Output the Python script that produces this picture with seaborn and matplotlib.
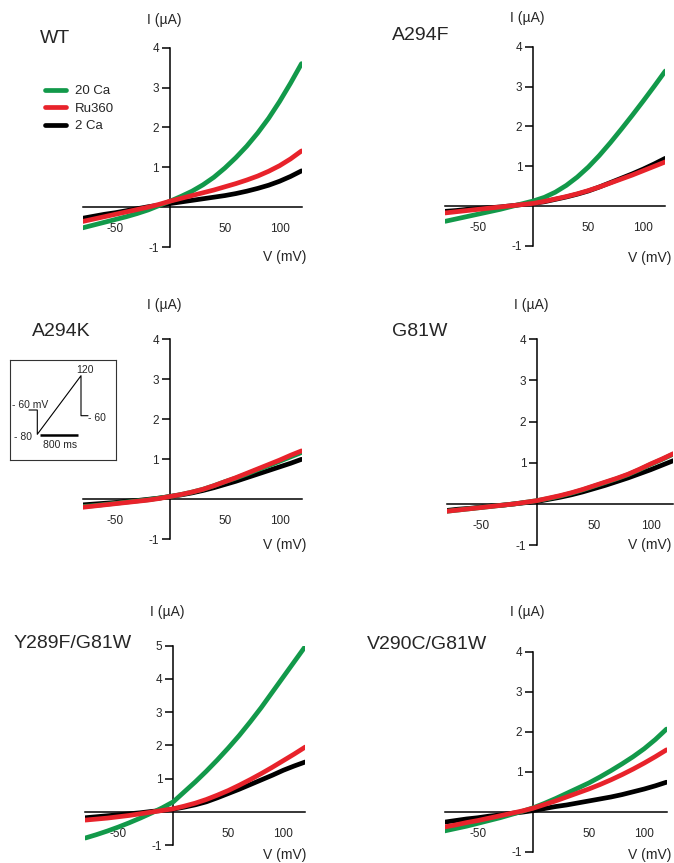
import numpy as np
import pandas as pd
import matplotlib
matplotlib.use("Agg")
import matplotlib.pyplot as plt
from matplotlib.lines import Line2D
import seaborn as sns

# ---------------- data ----------------
voltage = [-80, -70, -60, -50, -40, -30, -20, -10, 0, 10, 20, 30, 40, 50, 60, 70, 80, 90, 100, 110, 120]

panels = ["WT", "A294F", "A294K", "G81W", "Y289F/G81W", "V290C/G81W"]
conditions = ["20 Ca", "Ru360", "2 Ca"]

wt_20ca = [-0.52, -0.45, -0.38, -0.31, -0.24, -0.16, -0.07, 0.04, 0.15, 0.27, 0.40, 0.56, 0.75, 0.98, 1.24, 1.53, 1.86, 2.23, 2.65, 3.11, 3.60]
wt_ru360 = [-0.36, -0.30, -0.24, -0.18, -0.12, -0.06, 0.00, 0.07, 0.15, 0.22, 0.29, 0.36, 0.43, 0.51, 0.59, 0.68, 0.78, 0.90, 1.04, 1.21, 1.41]
wt_2ca = [-0.28, -0.23, -0.18, -0.14, -0.09, -0.04, 0.01, 0.05, 0.09, 0.13, 0.17, 0.21, 0.25, 0.29, 0.34, 0.40, 0.47, 0.55, 0.65, 0.77, 0.91]

a294f_20ca = [-0.38, -0.32, -0.26, -0.20, -0.14, -0.08, -0.01, 0.06, 0.13, 0.22, 0.35, 0.52, 0.73, 0.98, 1.27, 1.59, 1.93, 2.28, 2.64, 3.01, 3.39]
a294f_ru360 = [-0.17, -0.14, -0.11, -0.08, -0.05, -0.02, 0.01, 0.04, 0.07, 0.12, 0.18, 0.24, 0.31, 0.39, 0.48, 0.58, 0.68, 0.78, 0.89, 1.00, 1.11]
a294f_2ca = [-0.13, -0.11, -0.08, -0.06, -0.04, -0.02, 0.01, 0.04, 0.07, 0.11, 0.17, 0.23, 0.30, 0.38, 0.48, 0.59, 0.70, 0.81, 0.93, 1.06, 1.20]

a294k_20ca = [-0.18, -0.16, -0.13, -0.10, -0.07, -0.04, -0.01, 0.03, 0.07, 0.12, 0.18, 0.25, 0.34, 0.44, 0.53, 0.63, 0.74, 0.84, 0.95, 1.06, 1.17]
a294k_ru360 = [-0.20, -0.17, -0.14, -0.11, -0.08, -0.05, -0.02, 0.02, 0.07, 0.12, 0.18, 0.25, 0.34, 0.44, 0.54, 0.65, 0.76, 0.87, 0.98, 1.10, 1.21]
a294k_2ca = [-0.14, -0.12, -0.10, -0.08, -0.05, -0.03, 0.00, 0.03, 0.07, 0.11, 0.16, 0.22, 0.29, 0.37, 0.45, 0.54, 0.63, 0.72, 0.81, 0.90, 1.00]

g81w_20ca = [-0.18, -0.15, -0.12, -0.09, -0.06, -0.03, 0.00, 0.04, 0.08, 0.13, 0.19, 0.26, 0.34, 0.43, 0.52, 0.61, 0.71, 0.83, 0.96, 1.08, 1.21]
g81w_ru360 = [-0.18, -0.15, -0.12, -0.09, -0.06, -0.03, 0.00, 0.04, 0.08, 0.14, 0.20, 0.27, 0.35, 0.44, 0.53, 0.62, 0.72, 0.84, 0.97, 1.09, 1.22]
g81w_2ca = [-0.16, -0.13, -0.11, -0.08, -0.05, -0.03, 0.00, 0.03, 0.06, 0.11, 0.16, 0.22, 0.29, 0.37, 0.45, 0.54, 0.63, 0.73, 0.83, 0.94, 1.05]

y289f_20ca = [-0.79, -0.69, -0.58, -0.46, -0.33, -0.19, -0.04, 0.12, 0.30, 0.60, 0.90, 1.22, 1.56, 1.92, 2.30, 2.71, 3.14, 3.60, 4.06, 4.52, 4.98]
y289f_ru360 = [-0.25, -0.22, -0.19, -0.15, -0.11, -0.06, -0.01, 0.04, 0.09, 0.17, 0.26, 0.37, 0.50, 0.64, 0.80, 0.97, 1.15, 1.34, 1.54, 1.74, 1.95]
y289f_2ca = [-0.18, -0.15, -0.12, -0.09, -0.06, -0.03, 0.01, 0.04, 0.08, 0.14, 0.21, 0.30, 0.42, 0.55, 0.68, 0.82, 0.96, 1.10, 1.25, 1.38, 1.50]

v290c_20ca = [-0.48, -0.42, -0.36, -0.29, -0.22, -0.15, -0.07, 0.01, 0.10, 0.21, 0.33, 0.46, 0.59, 0.72, 0.87, 1.03, 1.20, 1.38, 1.58, 1.81, 2.07]
v290c_ru360 = [-0.38, -0.33, -0.27, -0.22, -0.16, -0.10, -0.04, 0.02, 0.09, 0.18, 0.27, 0.37, 0.47, 0.57, 0.68, 0.80, 0.93, 1.07, 1.22, 1.38, 1.55]
v290c_2ca = [-0.26, -0.22, -0.18, -0.15, -0.11, -0.08, -0.04, -0.01, 0.03, 0.08, 0.13, 0.17, 0.22, 0.27, 0.32, 0.37, 0.43, 0.50, 0.57, 0.65, 0.74]

currents = {
    "WT": [wt_20ca, wt_ru360, wt_2ca],
    "A294F": [a294f_20ca, a294f_ru360, a294f_2ca],
    "A294K": [a294k_20ca, a294k_ru360, a294k_2ca],
    "G81W": [g81w_20ca, g81w_ru360, g81w_2ca],
    "Y289F/G81W": [y289f_20ca, y289f_ru360, y289f_2ca],
    "V290C/G81W": [v290c_20ca, v290c_ru360, v290c_2ca],
}
y_max = {"WT": 4, "A294F": 4, "A294K": 4, "G81W": 4, "Y289F/G81W": 5, "V290C/G81W": 4}
x_ticks = [-50, 50, 100]

# voltage protocol (schematic) labels
protocol_labels = ["120", "- 60 mV", "- 60", "- 80", "800 ms"]

# ---------------- style ----------------
sns.set_theme(style="white")
plt.rcParams["font.family"] = ["Liberation Sans", "DejaVu Sans"]

palette = {"20 Ca": "#12994a", "Ru360": "#e8232b", "2 Ca": "#000000"}
draw_order = ["2 Ca", "20 Ca", "Ru360"]
LW = 3.4

W, H = 674, 863
fig = plt.figure(figsize=(W / 100, H / 100), dpi=100)

# axes boxes in pixels: left, top, right, bottom
boxes = {
    "WT": (82.5, 47.7, 301.5, 247.0),
    "A294F": (445.3, 46.7, 665.3, 246.0),
    "A294K": (82.5, 339.3, 301.5, 539.3),
    "G81W": (446.7, 339.3, 673.3, 545.0),
    "Y289F/G81W": (85.3, 645.7, 305.3, 845.0),
    "V290C/G81W": (444.5, 652.0, 666.5, 851.7),
}
title_pos = {
    "WT": (40, 38.5), "A294F": (391.7, 36), "A294K": (31.7, 331.7),
    "G81W": (391.7, 331.7), "Y289F/G81W": (13.3, 643), "V290C/G81W": (367.3, 644),
}
ylabel_y = {"WT": 20, "A294F": 18.3, "A294K": 305, "G81W": 305,
            "Y289F/G81W": 611.7, "V290C/G81W": 611.7}
xlabel_pos = {"WT": (306, 257), "A294F": (671.5, 258), "A294K": (306, 545),
              "G81W": (671.5, 545), "Y289F/G81W": (306, 855), "V290C/G81W": (671.5, 855)}


def fx(px):
    return px / W


def fy(py):
    return 1 - py / H


for name in panels:
    l, t, r, b = boxes[name]
    ax = fig.add_axes([fx(l), fy(b), (r - l) / W, (b - t) / H])
    vals = currents[name]
    df = pd.DataFrame({
        "V": voltage * 3,
        "I": vals[0] + vals[1] + vals[2],
        "cond": [c for c in conditions for _ in voltage],
    })
    sns.lineplot(data=df, x="V", y="I", hue="cond", hue_order=draw_order,
                 palette=palette, linewidth=LW, legend=False, ax=ax,
                 sort=False, zorder=3)
    for ln in ax.get_lines():
        ln.set_solid_joinstyle("round")
    ax.set_xlim(-80, 120)
    ax.set_ylim(-1, y_max[name])
    ax.set_facecolor("none")
    for s in ["top", "right"]:
        ax.spines[s].set_visible(False)
    ax.spines["left"].set_position(("data", 0))
    ax.spines["bottom"].set_position(("data", 0))
    for s in ["left", "bottom"]:
        ax.spines[s].set_color("black")
        ax.spines[s].set_linewidth(1.1)
    yt = [-1] + list(range(1, y_max[name] + 1))
    ax.set_yticks(yt)
    ax.set_yticklabels([str(v) for v in yt])
    ax.set_xticks(x_ticks)
    ax.set_xticklabels([str(v) for v in x_ticks])
    ax.tick_params(axis="y", direction="out", length=6, width=1.1, pad=2,
                   labelsize=8.5, color="black", left=True)
    ax.tick_params(axis="x", length=0, pad=11.5, labelsize=8.5)
    ax.set_xlabel("")
    ax.set_ylabel("")
    ax.grid(False)

    x0_px = l + (0 - (-80)) / 200 * (r - l)
    fig.text(fx(x0_px - 6), fy(ylabel_y[name]), "I (µA)", ha="center",
             va="center", fontsize=10)
    xr, yr = xlabel_pos[name]
    fig.text(fx(xr), fy(yr), "V (mV)", ha="right", va="center", fontsize=10)
    tx, ty = title_pos[name]
    fig.text(fx(tx), fy(ty), name, ha="left", va="center", fontsize=14)

    if name == "WT":
        handles = [Line2D([], [], color=palette[c], lw=LW) for c in conditions]
        fig.legend(handles, conditions, loc="upper left",
                   bbox_to_anchor=(fx(45), fy(85)), frameon=False,
                   fontsize=9.5, handlelength=1.6, handletextpad=0.7,
                   labelspacing=0.4, borderpad=0, borderaxespad=0)

# ---------------- protocol inset ----------------
il, it, ir, ib = 10, 360, 116, 460
ins = fig.add_axes([fx(il), fy(ib), (ir - il) / W, (ib - it) / H])
ins.set_xlim(0, ir - il)
ins.set_ylim(ib - it, 0)
ins.set_xticks([])
ins.set_yticks([])
ins.set_facecolor("white")
for s in ins.spines.values():
    s.set_visible(True)
    s.set_color("#333333")
    s.set_linewidth(0.8)
ins.plot([19, 27.3, 27.3, 71, 71, 78], [50, 50, 74.3, 15.7, 55.7, 55.7],
         color="black", lw=0.8)
ins.plot([30, 68.3], [75, 75], color="black", lw=1.8, solid_capstyle="butt")
ins.text(75, 10, protocol_labels[0], ha="center", va="center", fontsize=7.5)
ins.text(2.3, 45, protocol_labels[1], ha="left", va="center", fontsize=7.5)
ins.text(78.3, 58.3, protocol_labels[2], ha="left", va="center", fontsize=7.5)
ins.text(4, 76.7, protocol_labels[3], ha="left", va="center", fontsize=7.5)
ins.text(50, 85, protocol_labels[4], ha="center", va="center", fontsize=7.5)

fig.savefig("out.png", dpi=100)
